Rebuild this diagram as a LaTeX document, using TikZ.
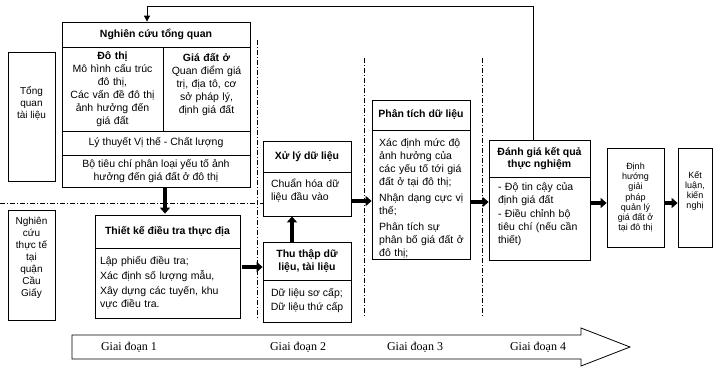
\documentclass[tikz,border=0pt]{standalone}
\usepackage{fontspec}
\setmainfont{Liberation Sans}
\newfontfamily\serf{Liberation Serif}
\usetikzlibrary{arrows.meta}
\newcommand\mybox[7]{%
  \node[box,minimum width={(#4-#2)*1pt},minimum height={(#5-#3)*1pt},#6] (#1) at ({(#2+#4)/2},{(#3+#5)/2}) {#7};}
\begin{document}
\begin{tikzpicture}[x=1pt,y=-1pt,
  box/.style={draw, line width=0.8pt, inner sep=2pt, align=center, font=\fontsize{10.5}{13}\selectfont},
  txt/.style={inner sep=0pt, font=\fontsize{10.5}{13}\selectfont},
  small/.style={font=\fontsize{10}{12}\selectfont},
  tiny/.style={font=\fontsize{9}{10.2}\selectfont},
  thk/.style={line width=3.5pt, -{Triangle[length=6pt,width=10pt]}},
  thin/.style={line width=0.8pt, -{Triangle[length=6pt,width=6pt]}},
  dd/.style={line width=0.8pt, dash pattern=on 5pt off 2pt on 1pt off 2pt},
  gd/.style={inner sep=0pt, font=\serf\fontsize{12}{14}\selectfont}]
\useasboundingbox (0,0) rectangle (713,368);

% dash-dot separators
\draw[dd] (0,203) -- (263,203);
\draw[dd] (257,40) -- (257,320);
\draw[dd] (364,58) -- (364,316);
\draw[dd] (482,58) -- (482,316);

% left side labels
\mybox{tqtl}{8}{52}{55}{181}{}{}
\node[txt,small,align=center] (tqtlt) at (31.5,103) {Tổng\\quan\\tài liệu};
\mybox{nctt}{8}{210}{55}{320}{}{}
\node[txt,small,align=center] (ncttt) at (31.5,258) {Nghiên\\cứu\\thực tế\\tại\\quận\\Cầu\\Giấy};

% Nghien cuu tong quan
\mybox{ntq}{62}{22}{250}{47}{font=\bfseries\fontsize{10.5}{13}\selectfont}{Nghiên cứu tổng quan}
\mybox{dt}{62}{47}{163}{131}{text width=95pt}{\textbf{Đô thị}\\Mô hình cấu trúc\\đô thị,\\Các vấn đề đô thị\\ảnh hưởng đến\\giá đất}
\mybox{gdo}{163}{47}{250}{131}{}{}
\node[txt,align=center,text width=85pt] (gdt) at (206.5,85) {\textbf{Giá đất ở}\\Quan điểm giá\\trị, địa tô, cơ\\sở pháp lý,\\định giá đất};
\mybox{lt}{62}{131}{250}{155}{}{Lý thuyết Vị thế - Chất lượng}
\mybox{btc}{62}{155}{250}{187}{}{Bộ tiêu chí phân loại yếu tố ảnh\\hưởng đến giá đất ở đô thị}

% Thiet ke dieu tra
\mybox{tkh}{95}{215}{240}{248}{font=\bfseries\fontsize{10.5}{13}\selectfont}{Thiết kế điều tra thực địa}
\mybox{tkb}{95}{248}{240}{318}{text width=135pt,align=left}{Lập phiếu điều tra;\\[2pt]Xác định số lượng mẫu,\\[2pt]Xây dựng các tuyến, khu\\vực điều tra.}

% Xu ly
\mybox{xlh}{263}{141}{351}{172}{font=\bfseries\fontsize{10.5}{13}\selectfont}{Xử lý dữ liệu}
\mybox{xlb}{263}{172}{351}{216}{}{}
\node[txt,align=left,text width=72pt] (xlt) at (307,190.5) {Chuẩn hóa dữ\\liệu đầu vào};

% Thu thap
\mybox{tth}{263}{242}{351}{280}{font=\bfseries\fontsize{10.5}{13}\selectfont}{Thu thập dữ\\liệu, tài liệu}
\mybox{ttb}{263}{280}{351}{322}{}{Dữ liệu sơ cấp;\\[1pt]Dữ liệu thứ cấp}

% Phan tich
\mybox{pth}{372}{100}{470}{130}{font=\bfseries\fontsize{10.5}{13}\selectfont}{Phân tích dữ liệu}
\mybox{ptb}{372}{130}{470}{259}{}{}
\node[txt,align=left,text width=90pt,anchor=west] (ptt) at (379,198) {Xác định mức độ\\ảnh hưởng của\\các yếu tố tới giá\\đất ở tại đô thị;\\[3pt]Nhận dạng cực vị\\thế;\\[3pt]Phân tích sự\\phân bố giá đất ở\\đô thị;};

% Danh gia
\mybox{dgh}{489}{140}{590}{177}{font=\bfseries\fontsize{10.5}{11.5}\selectfont}{Đánh giá kết quả\\thực nghiệm}
\mybox{dgb}{489}{177}{590}{260}{}{}
\node[txt,align=left,text width=83pt] (dgt) at (539.5,214) {- Độ tin cậy của\\định giá đất\\[1pt]- Điều chỉnh bộ\\tiêu chí (nếu cần\\thiết)};

% Dinh huong, Ket luan
\mybox{dh}{607}{148}{664}{247}{tiny}{Định\\hướng\\giải\\pháp\\quản lý\\giá đất ở\\tại đô thị}
\mybox{kl}{678}{148}{712}{247}{}{}
\node[txt,tiny,align=center] (klt) at (695,191) {Kết\\luận,\\kiến\\nghị};

% coordinates for connectors
\coordinate (c165) at (165,0);
\coordinate (r267) at (0,267);
\coordinate (c292) at (292,0);
\coordinate (r201) at (0,201);
\coordinate (r202) at (0,202);
\coordinate (r203) at (0,203);
\coordinate (fb1) at (533,6);
\coordinate (fb2) at (147,6);

% thick arrows
\draw[thk] (btc.south -| c165) -- ([yshift=1pt]tkh.north -| c165);
\draw[thk] ([xshift=2pt]tkb.east |- r267) -- (tth.west |- r267);
\draw[thk] (tth.north -| c292) -- (xlb.south -| c292);
\draw[thk] ([xshift=1pt]xlb.east |- r201) -- (ptb.west |- r201);
\draw[thk] ([xshift=1pt]ptb.east |- r202) -- (dgb.west |- r202);
\draw[thk] ([xshift=1pt]dgb.east |- r203) -- (dh.west |- r203);
\draw[thk] ([xshift=1pt]dh.east |- r203) -- (kl.west |- r203);

% feedback
\draw[thin] (dgh.north -| fb1) -- (fb1) -- (fb2) -- (ntq.north -| fb2);

% bottom stage arrow
\draw[line width=0.8pt] (72,335) -- (581,335) -- (581,328) -- (630,347) -- (581,366) -- (581,359) -- (72,359) -- cycle;
\node[gd] (g1) at (129,347) {Giai đoạn 1};
\node[gd] (g2) at (298,347) {Giai đoạn 2};
\node[gd] (g3) at (415,347) {Giai đoạn 3};
\node[gd] (g4) at (538,347) {Giai đoạn 4};
\end{tikzpicture}
\end{document}
